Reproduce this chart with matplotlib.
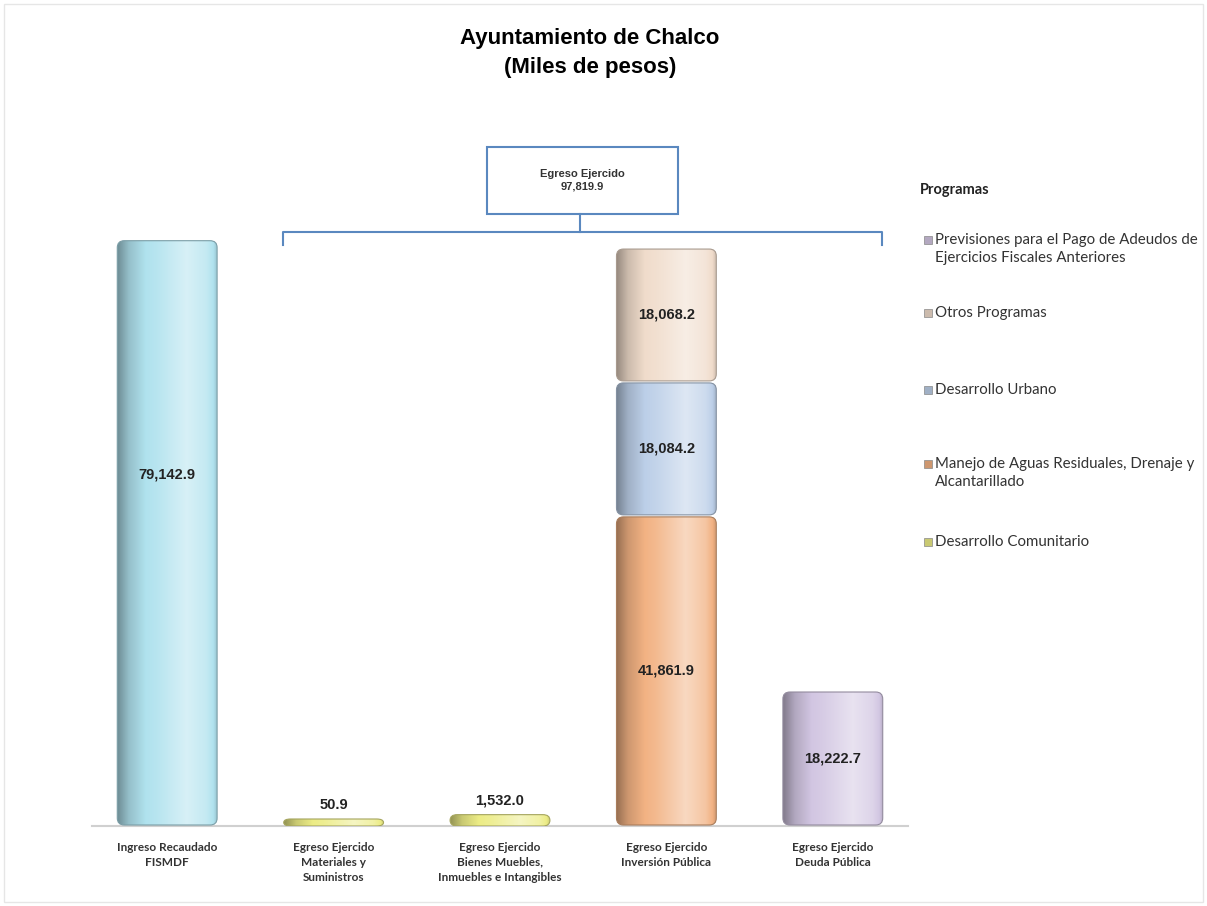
import numpy as np
import matplotlib
matplotlib.use('Agg')
import matplotlib.pyplot as plt
from matplotlib.patches import FancyBboxPatch, Rectangle
from matplotlib.colors import to_rgb

# data (miles de pesos)
categories = ['Ingreso Recaudado\nFISMDF',
              'Egreso Ejercido\nMateriales y\nSuministros',
              'Egreso Ejercido\nBienes Muebles,\nInmuebles e Intangibles',
              'Egreso Ejercido\nInversión Pública',
              'Egreso Ejercido\nDeuda Pública']
ingreso = 79142.9
egreso_total = 97819.9
materiales = 50.9
bienes = 1532.0
inv_manejo = 41861.9
inv_urbano = 18084.2
inv_otros = 18068.2
deuda = 18222.7

programas = ['Previsiones para el Pago de Adeudos de\nEjercicios Fiscales Anteriores',
             'Otros Programas',
             'Desarrollo Urbano',
             'Manejo de Aguas Residuales, Drenaje y\nAlcantarillado',
             'Desarrollo Comunitario']
prog_colors = ['#d2c6e2', '#f0dccb', '#bccfe8', '#f2b283', '#ecec86']
ingreso_color = '#b0e2ee'

fig = plt.figure(figsize=(12.07, 9.06), dpi=100)
ax = fig.add_axes([84/1207, 80/906, 832/1207, 726/906])
ax.set_xlim(-0.5, 4.5)
ax.set_ylim(0, 98000)
ax.axis('off')

px_x = 1/166.4          # data units per pixel (x)
px_y = 98000/726        # data units per pixel (y)
bw = 0.6


def shade(color, n=200):
    base = np.array(to_rgb(color))
    t = np.linspace(0, 1, n)
    m = np.interp(t, [0, 0.12, 0.4, 0.7, 0.9, 1], [-0.38, -0.15, 0.1, 0.5, 0.25, -0.12])
    m = m[:, None]
    col = np.where(m < 0, base*(1+m), base + (1-base)*m)
    return np.clip(col, 0, 1)[None, :, :]


def cylinder(x, y0, h, color, gap=2):
    y0d = y0 + gap*px_y*0.5
    hd = max(h - gap*px_y, 7*px_y)
    r = 7*px_x
    ry = min(7*px_y, hd/2)
    patch = FancyBboxPatch((x-bw/2, y0d), bw, hd,
                           boxstyle='round,pad=0,rounding_size=%f' % r,
                           mutation_aspect=ry/r, transform=ax.transData,
                           facecolor='none', edgecolor=np.array(to_rgb(color))*0.7,
                           linewidth=0.8, zorder=3)
    ax.add_patch(patch)
    im = ax.imshow(shade(color), extent=(x-bw/2, x+bw/2, y0d, y0d+hd),
                   aspect='auto', zorder=2, interpolation='bilinear')
    im.set_clip_path(patch)
    return y0d + hd


lbl = dict(ha='center', va='center', fontsize=10.5, fontweight='bold',
           family='Liberation Sans', color='#222222', zorder=5)

# Ingreso
cylinder(0, 0, ingreso, ingreso_color)
ax.text(0, ingreso*0.6, f'{ingreso:,.1f}', **lbl)

# Materiales y Bienes
for xi, v in [(1, materiales), (2, bienes)]:
    top = cylinder(xi, 0, v, prog_colors[4], gap=0)
    ax.annotate(f'{v:,.1f}', (xi, top), xytext=(0, 5), textcoords='offset points',
                ha='center', va='bottom', fontsize=10.5, fontweight='bold',
                family='Liberation Sans', color='#222222')

# Inversion publica (apilada)
base = 0
for v, c in [(inv_manejo, prog_colors[3]), (inv_urbano, prog_colors[2]), (inv_otros, prog_colors[1])]:
    cylinder(3, base, v, c)
    ax.text(3, base + v/2, f'{v:,.1f}', **lbl)
    base += v

# Deuda
cylinder(4, 0, deuda, prog_colors[0])
ax.text(4, deuda/2, f'{deuda:,.1f}', **lbl)

# baseline
ax.plot([-0.45, 4.45], [0, 0], color='#d0d0d0', lw=1.5, zorder=1, clip_on=False)

for i, c in enumerate(categories):
    ax.text(i, -2100, c, ha='center', va='top', fontsize=8.5, fontweight='bold',
            family='Lato', color='#333333', linespacing=1.45)

# overlay in pixel coordinates
ov = fig.add_axes([0, 0, 1, 1], zorder=-1)
ov.set_xlim(0, 1207)
ov.set_ylim(906, 0)
ov.axis('off')
ov.add_patch(Rectangle((4, 4), 1199, 898, fill=False, edgecolor='#e6e6e6', lw=1))

fig.text(590/1207, 1-53/906, 'Ayuntamiento de Chalco\n(Miles de pesos)', ha='center',
         va='center', fontsize=16, fontweight='bold', family='Liberation Sans',
         linespacing=1.5)

blue = '#5a88bf'
ov.add_patch(Rectangle((487, 147), 191, 67, fill=False, edgecolor=blue, lw=1.5))
ov.text(582, 180, f'Egreso Ejercido\n{egreso_total:,.1f}', ha='center', va='center',
        fontsize=8, family='Liberation Sans', fontweight='bold', color='#333333',
        linespacing=1.3)
ov.plot([580, 580], [214, 232], color=blue, lw=1.5)
ov.plot([283, 283, 882, 882], [245, 232, 232, 245], color=blue, lw=1.5)

# legend
fig.text(920/1207, 1-190/906, 'Programas', ha='left', va='center', fontsize=10.5,
         fontweight='bold', family='Lato', color='#222222')
leg_y = [252, 313, 390, 476, 542]
for lab, c, y in zip(programas, prog_colors, leg_y):
    n = lab.count('\n')
    ty = y - 12*n
    ov.add_patch(Rectangle((924, ty-4), 8, 8, facecolor=np.array(to_rgb(c))*0.85,
                           edgecolor='#888888', lw=0.5))
    ov.text(935, ty - 7, lab, ha='left', va='top', fontsize=10.8, family='Lato',
            color='#333333', linespacing=1.35)

fig.savefig('out.png', dpi=100)
